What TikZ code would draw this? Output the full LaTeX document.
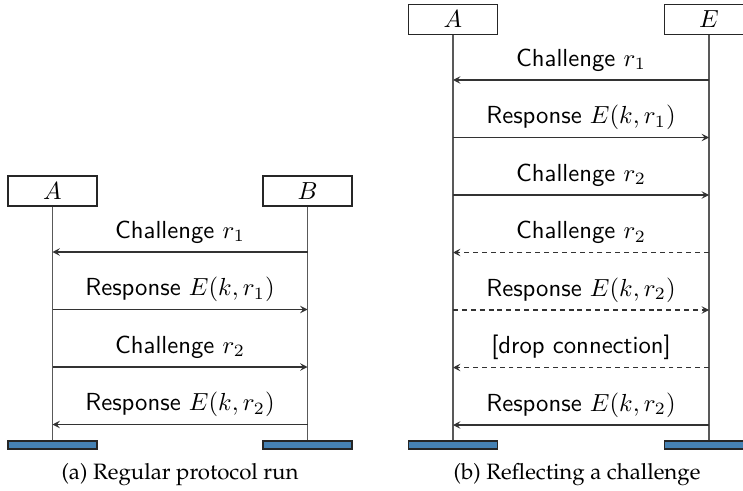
\documentclass[tikz,border=0pt]{standalone}
\usetikzlibrary{arrows.meta}
\definecolor{barblue}{RGB}{70,130,180}
\newcommand{\capfont}{\usefont{OT1}{ppl}{m}{n}\fontsize{9}{11}\selectfont}
\begin{document}
\begin{tikzpicture}[x=0.405pt,y=-0.405pt,
  actor/.style={draw=black!85, line width=0.5pt, fill=white,
    minimum width=36pt, minimum height=12.2pt, inner sep=0pt},
  endbar/.style={draw=black!85, line width=0.5pt, fill=barblue,
    minimum width=36pt, minimum height=3.3pt, inner sep=0pt},
  life/.style={draw=black!65, line width=0.5pt},
  msg/.style={draw=black!80, line width=0.45pt,
    -{Stealth[length=3pt,width=3pt,inset=1.2pt]}},
  dmsg/.style={msg, dash pattern=on 2pt off 1.6pt},
  lbl/.style={midway, anchor=base, yshift=5.6pt, font=\sffamily},
  caption/.style={anchor=base, font=\capfont}]
\useasboundingbox (0,0) rectangle (743,491);

% (a) regular run between A and B
\node[actor] (aA) at (52.5,191) {$A$};
\node[actor] (aB) at (307.5,191) {$B$};
\node[endbar] (aAend) at (52.5,445) {};
\node[endbar] (aBend) at (307.5,445) {};
\draw[life] (aA) -- (aAend);
\draw[life] (aB) -- (aBend);
\coordinate (ra1) at (0,252);
\coordinate (ra2) at (0,309.5);
\coordinate (ra3) at (0,367);
\coordinate (ra4) at (0,424.5);
\draw[msg] (aB |- ra1) -- (aA |- ra1) node[lbl] {Challenge $r_1$};
\draw[msg] (aA |- ra2) -- (aB |- ra2) node[lbl] {Response $E(k,r_1)$};
\draw[msg] (aA |- ra3) -- (aB |- ra3) node[lbl] {Challenge $r_2$};
\draw[msg] (aB |- ra4) -- (aA |- ra4) node[lbl] {Response $E(k,r_2)$};
\node[caption] (capa) at (180,479) {(a) Regular protocol run};

% (b) E reflects A's challenge back to A
\node[actor] (bA) at (453,19.5) {$A$};
\node[actor] (bE) at (709,19.5) {$E$};
\node[endbar] (bAend) at (453,445) {};
\node[endbar] (bEend) at (709,445) {};
\draw[life] (bA) -- (bAend);
\draw[life] (bE) -- (bEend);
\coordinate (rb1) at (0,80);
\coordinate (rb2) at (0,137.5);
\coordinate (rb3) at (0,195);
\coordinate (rb4) at (0,252.5);
\coordinate (rb5) at (0,310);
\coordinate (rb6) at (0,367.5);
\coordinate (rb7) at (0,425);
\draw[msg] (bE |- rb1) -- (bA |- rb1) node[lbl] {Challenge $r_1$};
\draw[msg] (bA |- rb2) -- (bE |- rb2) node[lbl] {Response $E(k,r_1)$};
\draw[msg] (bA |- rb3) -- (bE |- rb3) node[lbl] {Challenge $r_2$};
\draw[dmsg] (bE |- rb4) -- (bA |- rb4) node[lbl] {Challenge $r_2$};
\draw[dmsg] (bA |- rb5) -- (bE |- rb5) node[lbl] {Response $E(k,r_2)$};
\draw[dmsg] (bE |- rb6) -- (bA |- rb6) node[lbl] {[drop connection]};
\draw[msg] (bE |- rb7) -- (bA |- rb7) node[lbl] {Response $E(k,r_2)$};
\node[caption] (capb) at (577,479) {(b) Reflecting a challenge};
\end{tikzpicture}
\end{document}
